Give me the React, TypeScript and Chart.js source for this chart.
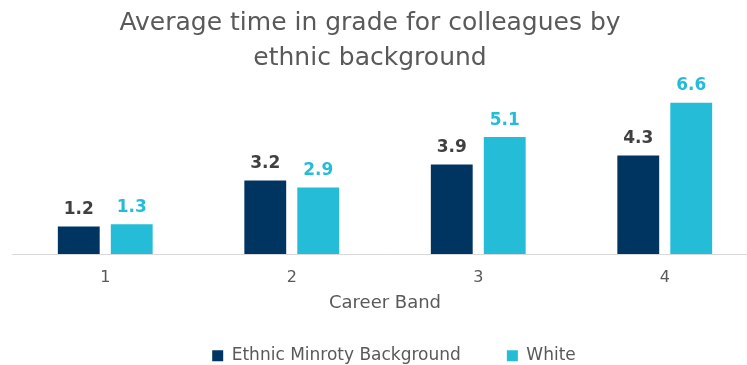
import React, { useEffect, useRef } from 'react';
import { Chart, registerables } from 'chart.js';

Chart.register(...registerables);

const categories = ['1', '2', '3', '4'];
const ethnicMinority = [1.2, 3.2, 3.9, 4.3];
const white = [1.3, 2.9, 5.1, 6.6];
const seriesNames = ['Ethnic Minroty Background', 'White'];
const titleLines = ['Average time in grade for colleagues by', 'ethnic background'];
const xTitle = 'Career Band';

const NAVY = '#003562';
const CYAN = '#25BCD7';
const LABEL_DARK = '#404040';
const TEXT = '#595959';
const AXIS = '#D9D9D9';
const FONT = '"DejaVu Sans"';

const CANVAS_W = 760;
const CANVAS_H = 365;

const valueLabels = {
  id: 'valueLabels',
  afterDatasetsDraw(chart: any) {
    const ctx = chart.ctx;
    ctx.save();
    ctx.font = `bold 17px ${FONT}`;
    ctx.textAlign = 'center';
    ctx.textBaseline = 'alphabetic';
    chart.data.datasets.forEach((ds: any, i: number) => {
      const meta = chart.getDatasetMeta(i);
      ctx.fillStyle = i === 0 ? LABEL_DARK : CYAN;
      meta.data.forEach((bar: any, j: number) => {
        ctx.fillText(Number(ds.data[j]).toFixed(1), bar.x, bar.y - 12.5);
      });
    });
    ctx.restore();
  },
};

const legendShift = {
  id: 'legendShift',
  afterLayout(chart: any) {
    const lg = chart.legend;
    if (lg) {
      lg.left += 9;
      lg.right += 9;
    }
  },
};

export default function App() {
  const ref = useRef<HTMLCanvasElement | null>(null);
  useEffect(() => {
    if (!ref.current) return;
    const chart = new Chart(ref.current, {
      type: 'bar',
      data: {
        labels: categories,
        datasets: [
          {
            label: seriesNames[0],
            data: ethnicMinority,
            backgroundColor: NAVY,
            borderWidth: 0,
            barPercentage: 0.79,
            categoryPercentage: 0.568,
          },
          {
            label: seriesNames[1],
            data: white,
            backgroundColor: CYAN,
            borderWidth: 0,
            barPercentage: 0.79,
            categoryPercentage: 0.568,
          },
        ],
      },
      options: {
        animation: false,
        responsive: false,
        maintainAspectRatio: false,
        layout: { padding: { left: -18, right: 2, top: 0, bottom: -9.3 } },
        plugins: {
          title: {
            display: true,
            text: titleLines,
            color: TEXT,
            font: { family: FONT, size: 25, weight: 'normal', lineHeight: 1.4 },
            padding: { top: 6, bottom: 6 },
          },
          legend: {
            display: true,
            position: 'bottom',
            fullSize: false,
            labels: {
              color: TEXT,
              font: { family: FONT, size: 17 },
              boxWidth: 11,
              boxHeight: 11,
              padding: 46,
            },
          },
          tooltip: { enabled: false },
        },
        scales: {
          x: {
            grid: { display: false },
            border: { display: true, color: AXIS, width: 1 },
            ticks: { color: TEXT, font: { family: FONT, size: 16 }, padding: 6 },
            title: {
              display: true,
              text: xTitle,
              color: TEXT,
              font: { family: FONT, size: 18 },
              padding: { top: -0.5, bottom: -13 },
            },
          },
          y: {
            min: 0,
            max: 7.5,
            grid: { display: false },
            border: { display: false },
            ticks: { display: false },
            afterFit: (scale: any) => {
              scale.width = 30;
            },
          },
        },
      },
      plugins: [valueLabels, legendShift],
    });
    return () => chart.destroy();
  }, []);
  return (
    <div style={{ position: 'absolute', left: 0, top: 0, width: 747, height: 365, overflow: 'hidden', background: '#fff' }}>
      <canvas ref={ref} width={CANVAS_W} height={CANVAS_H} style={{ width: CANVAS_W, height: CANVAS_H, display: 'block' }} />
    </div>
  );
}
